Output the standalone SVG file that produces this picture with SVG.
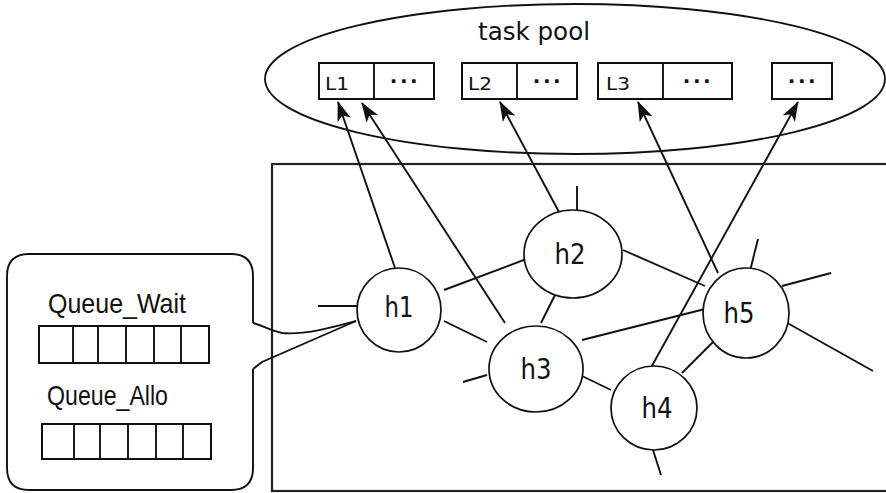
<svg xmlns="http://www.w3.org/2000/svg" width="886" height="493" viewBox="0 0 886 493">
<style>
.ln{fill:none;stroke:#111;stroke-width:1.9}
.bx{fill:#fff;stroke:#111;stroke-width:2}
.nd{fill:#fff;stroke:#111;stroke-width:1.7}
.lbl{font-family:"DejaVu Sans",sans-serif;fill:#111}
.q{font-family:"Liberation Sans",Arial,sans-serif;fill:#111}
.dots{font-family:"DejaVu Sans",sans-serif;font-weight:bold;font-size:20px;fill:#111;letter-spacing:2.5px}
</style>
<defs>
<marker id="ah" markerUnits="userSpaceOnUse" markerWidth="20" markerHeight="14" refX="19" refY="7" orient="auto">
<path d="M0,0 L20,7 L0,14 L5,7 z" fill="#111"/>
</marker>
</defs>
<rect x="272" y="164" width="620" height="327" fill="none" stroke="#222" stroke-width="2.2"/>
<g id="pool">
<ellipse cx="575" cy="79" rx="310" ry="75" fill="none" stroke="#111" stroke-width="1.8"/>
<text class="lbl" x="478" y="40" font-size="24" textLength="112" lengthAdjust="spacingAndGlyphs">task pool</text>
<rect class="bx" x="319" y="63" width="115" height="36"/><line class="ln" x1="374" y1="63" x2="374" y2="99"/>
<text class="lbl" x="325" y="90" font-size="18" textLength="24" lengthAdjust="spacingAndGlyphs">L1</text>
<text class="dots" x="405" y="88" text-anchor="middle">···</text>
<rect class="bx" x="462" y="63" width="115" height="36"/><line class="ln" x1="517" y1="63" x2="517" y2="99"/>
<text class="lbl" x="468" y="90" font-size="18" textLength="24" lengthAdjust="spacingAndGlyphs">L2</text>
<text class="dots" x="548" y="88" text-anchor="middle">···</text>
<rect class="bx" x="598" y="63" width="134" height="36"/><line class="ln" x1="663" y1="63" x2="663" y2="99"/>
<text class="lbl" x="606" y="90" font-size="18" textLength="24" lengthAdjust="spacingAndGlyphs">L3</text>
<text class="dots" x="698" y="88" text-anchor="middle">···</text>
<rect class="bx" x="772" y="63" width="60" height="36"/>
<text class="dots" x="803" y="88" text-anchor="middle">···</text>
</g>
<g id="queues">
<path class="ln" d="M253,323 L253,276 Q253,254 231,254 L29,254 Q7,254 7,276 L7,468 Q7,490 29,490 L231,490 Q253,490 253,468 L253,369"/>
<path class="ln" d="M253,323 C262,325 268,330 282,333 C305,335 330,328 356,321"/>
<path class="ln" d="M253,369 L262,362 L356,321"/>
<text class="q" x="48" y="313" font-size="28" textLength="138" lengthAdjust="spacingAndGlyphs">Queue_Wait</text>
<rect class="bx" x="39" y="326" width="170" height="37"/>
<path class="ln" d="M73,326V363M98,326V363M126,326V363M154,326V363M181,326V363"/>
<text class="q" x="47" y="405" font-size="28" textLength="121" lengthAdjust="spacingAndGlyphs">Queue_Allo</text>
<rect class="bx" x="42" y="424" width="169" height="35"/>
<path class="ln" d="M74,424V459M100,424V459M128,424V459M156,424V459M183,424V459"/>
</g>
<g id="connectors">
<line class="ln" x1="395" y1="268" x2="338" y2="102" marker-end="url(#ah)"/>
<line class="ln" x1="505" y1="323" x2="362" y2="103" marker-end="url(#ah)"/>
<line class="ln" x1="559" y1="212" x2="500" y2="102" marker-end="url(#ah)"/>
<line class="ln" x1="718" y1="273" x2="638" y2="102" marker-end="url(#ah)"/>
<line class="ln" x1="648" y1="373" x2="798" y2="102" marker-end="url(#ah)"/>
<line class="ln" x1="444" y1="290" x2="529" y2="258"/>
<line class="ln" x1="444" y1="321" x2="487" y2="342"/>
<line class="ln" x1="556" y1="293" x2="541" y2="323"/>
<line class="ln" x1="623" y1="250" x2="705" y2="286"/>
<line class="ln" x1="582" y1="340" x2="705" y2="309"/>
<line class="ln" x1="582" y1="376" x2="611" y2="390"/>
<line class="ln" x1="682" y1="373" x2="713" y2="342"/>
<line class="ln" x1="318" y1="306" x2="357" y2="306"/>
<line class="ln" x1="577" y1="186" x2="577" y2="210"/>
<line class="ln" x1="463" y1="382" x2="487" y2="375"/>
<line class="ln" x1="758" y1="239" x2="750" y2="271"/>
<line class="ln" x1="782" y1="286" x2="831" y2="273"/>
<line class="ln" x1="782" y1="320" x2="873" y2="371"/>
<line class="ln" x1="653" y1="450" x2="661" y2="475"/>
</g>
<g id="h1"><ellipse class="nd" cx="399" cy="310" rx="42" ry="42"/><text class="lbl" x="399" y="317" font-size="28" text-anchor="middle" textLength="29" lengthAdjust="spacingAndGlyphs">h1</text></g>
<g id="h2"><ellipse class="nd" cx="573" cy="254" rx="49" ry="44"/><text class="lbl" x="570" y="264" font-size="28" text-anchor="middle" textLength="31" lengthAdjust="spacingAndGlyphs">h2</text></g>
<g id="h3"><ellipse class="nd" cx="536" cy="369" rx="47" ry="43"/><text class="lbl" x="536" y="379" font-size="28" text-anchor="middle" textLength="31" lengthAdjust="spacingAndGlyphs">h3</text></g>
<g id="h4"><ellipse class="nd" cx="654" cy="408" rx="43" ry="42"/><text class="lbl" x="657" y="418" font-size="28" text-anchor="middle" textLength="31" lengthAdjust="spacingAndGlyphs">h4</text></g>
<g id="h5"><ellipse class="nd" cx="746" cy="313" rx="43" ry="45"/><text class="lbl" x="739" y="323" font-size="28" text-anchor="middle" textLength="31" lengthAdjust="spacingAndGlyphs">h5</text></g>
</svg>
